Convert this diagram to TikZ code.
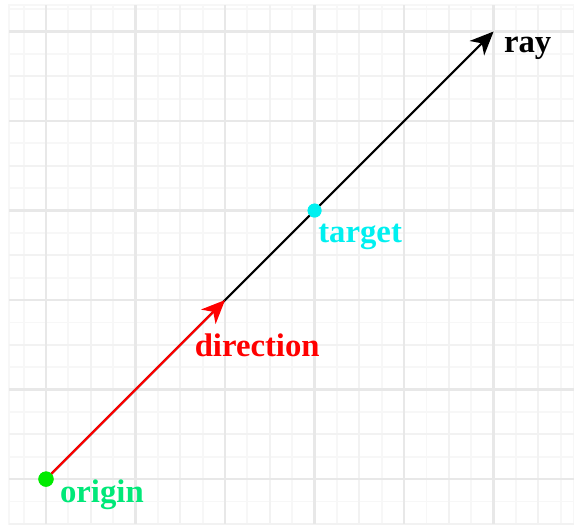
\documentclass[tikz,border=0pt]{standalone}
\usepackage{fontspec}
\setmainfont{Liberation Serif}
\usetikzlibrary{arrows.meta}
\definecolor{origingreen}{RGB}{0,232,120}
\definecolor{dotgreen}{RGB}{0,235,0}
\definecolor{targetcyan}{RGB}{0,240,240}

\begin{document}
\begin{tikzpicture}[
    lbl/.style={font=\bfseries\fontsize{10.4}{12}\selectfont, inner sep=0pt, anchor=base west},
    dot/.style={circle, inner sep=0pt, minimum size=0.17cm},
    vec/.style={line width=0.65pt, -{Stealth[length=7.5pt, width=6.5pt, inset=2.2pt]}}]
    \useasboundingbox (-0.514,-0.503) rectangle (5.898,5.352);
    % background grid
    \draw[line width=0.6pt, black!3] (-0.41,-0.5) grid[step=0.25] (5.898,5.3);
    \draw[line width=0.6pt, black!3] (-0.41,-0.5) rectangle (5.898,5.3);
    \draw[line width=0.65pt, black!5] (-0.41,-0.5) grid[step=0.5] (5.898,5.3);
    \draw[line width=0.75pt, black!9] (-0.41,-0.5) grid[step=1] (5.898,5.3);
    % points
    \node[dot, fill=dotgreen] (origin) at (0,0) {};
    \coordinate (dir) at (2,2);
    \node[dot, fill=targetcyan, minimum size=0.155cm] (target) at (3,3) {};
    \coordinate (ray) at (5,5);
    % vectors
    \draw[vec, black] (origin.center) -- (ray);
    \draw[vec, red] (origin.center) -- (dir);
    \node[dot, fill=dotgreen] at (origin) {};
    \node[dot, fill=targetcyan, minimum size=0.155cm] at (target) {};
    % labels
    \node[lbl, origingreen] (originlbl) at ([xshift=0.15cm, yshift=-0.26cm]origin.center) {origin};
    \node[lbl, red] (dirlbl) at ([xshift=-0.345cm, yshift=-0.626cm]dir) {direction};
    \node[lbl, targetcyan] (targetlbl) at ([xshift=0.035cm, yshift=-0.352cm]target.center) {target};
    \node[lbl, black] (raylbl) at ([xshift=0.11cm, yshift=-0.24cm]ray) {ray};
\end{tikzpicture}
\end{document}
